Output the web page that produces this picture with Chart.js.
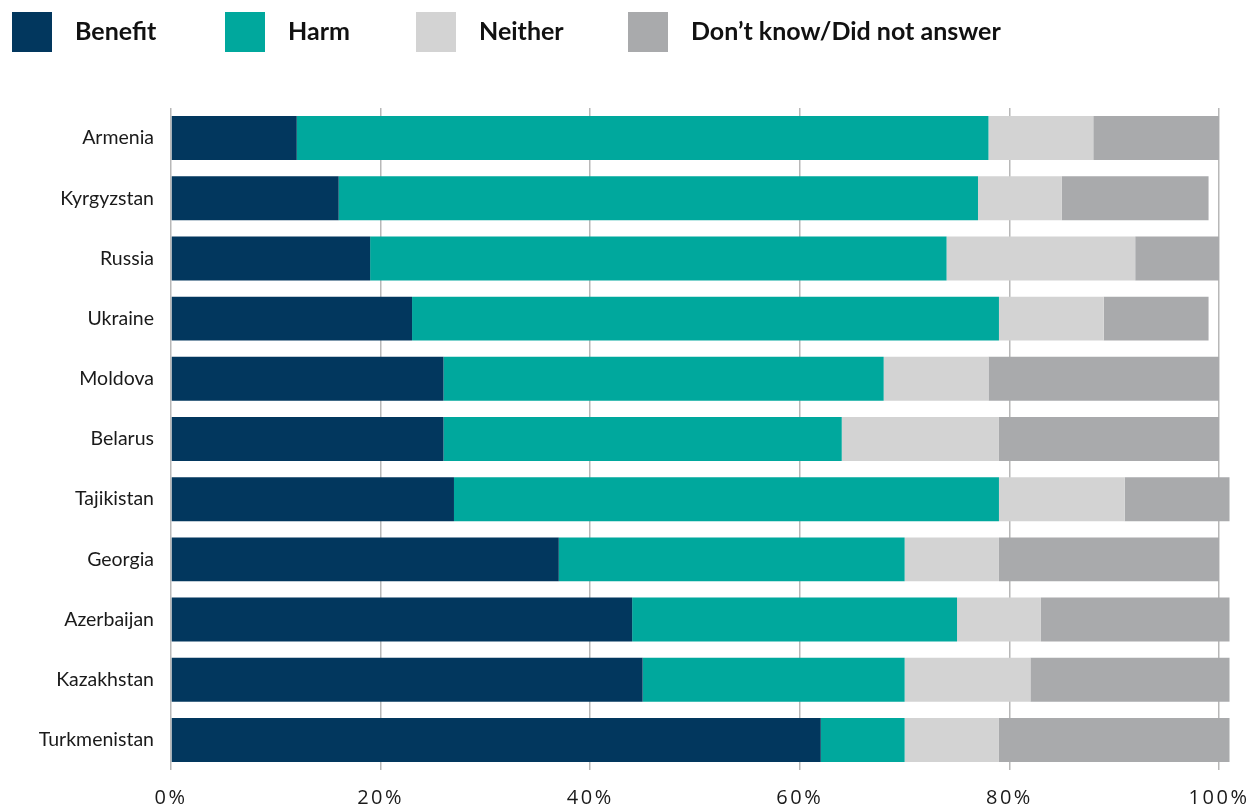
<!DOCTYPE html>
<html>
<head>
<meta charset="utf-8">
<title>Benefit or harm</title>
<script src="https://cdn.jsdelivr.net/npm/chart.js@4/dist/chart.umd.min.js"></script>
<style>
  html, body { margin: 0; padding: 0; background: #fff; }
  #wrap { position: relative; width: 1251px; height: 810px; }
  #legend { position: absolute; left: 0; top: 0; width: 1251px; height: 70px; }
  .item { position: absolute; top: 12px; height: 40px; display: flex; align-items: center;
          font-family: Lato, "Open Sans", sans-serif; font-weight: 700; font-size: 25px; color: #111; }
  .item span.box { display: inline-block; width: 40px; height: 40px; margin-right: 23px; }
  .item span.txt { position: relative; top: -2px; }
</style>
</head>
<body>
<div id="wrap">
  <div id="legend"></div>
  <canvas id="chart" width="1251" height="810"></canvas>
</div>
<script>
(function() {
    'use strict';

    var countries = [ 'Armenia', 'Kyrgyzstan', 'Russia', 'Ukraine', 'Moldova', 'Belarus',
        'Tajikistan', 'Georgia', 'Azerbaijan', 'Kazakhstan', 'Turkmenistan' ];
    var benefit  = [ 12, 16, 19, 23, 26, 26, 27, 37, 44, 45, 62 ];
    var harm     = [ 66, 61, 55, 56, 42, 38, 52, 33, 31, 25, 8 ];
    var neither  = [ 10, 8, 18, 10, 10, 15, 12, 9, 8, 12, 9 ];
    var dontKnow = [ 12, 14, 8, 10, 22, 21, 10, 21, 18, 19, 22 ];
    var tickValues = [ 0, 20, 40, 60, 80, 100 ];

    var series = [
        { label: 'Benefit', data: benefit, color: '#02375e' },
        { label: 'Harm', data: harm, color: '#00a89d' },
        { label: 'Neither', data: neither, color: '#d3d3d3' },
        { label: 'Don\u2019t know/Did not answer', data: dontKnow, color: '#a9aaac' }
    ];

    // legend drawn as html, spaced like the original
    var legendLeft = [ 12, 225, 416, 628 ];
    var legend = document.getElementById( 'legend' );
    series.forEach( function( s, i ) {
        var el = document.createElement( 'div' );
        el.className = 'item';
        el.style.left = legendLeft[ i ] + 'px';
        el.innerHTML = '<span class="box" style="background:' + s.color + '"></span>' +
            '<span class="txt">' + s.label + '</span>';
        legend.appendChild( el );
    } );

    // spaced-out tick labels on the x axis
    var spacedTicks = {
        id: 'spacedTicks',
        afterUpdate: function( chart ) {
            var sx = chart.scales.x;
            if ( sx && !sx._spaced ) {
                var orig = sx.drawLabels.bind( sx );
                sx.drawLabels = function( area ) {
                    var ctx = chart.ctx;
                    ctx.save();
                    ctx.letterSpacing = '2.5px';
                    orig( area );
                    ctx.restore();
                };
                sx._spaced = true;
            }
        }
    };

    var ctx = document.getElementById( 'chart' ).getContext( '2d' );
    new Chart( ctx, {
        type: 'bar',
        data: {
            labels: countries,
            datasets: series.map( function( s ) {
                return {
                    label: s.label,
                    data: s.data,
                    backgroundColor: s.color,
                    borderWidth: 0,
                    barPercentage: 0.73,
                    categoryPercentage: 1
                };
            } )
        },
        options: {
            indexAxis: 'y',
            responsive: false,
            animation: false,
            layout: { padding: { top: 108, right: 11, bottom: 0, left: 0 } },
            plugins: {
                legend: { display: false },
                tooltip: { enabled: false }
            },
            scales: {
                x: {
                    stacked: true,
                    min: 0,
                    max: 102,
                    afterBuildTicks: function( scale ) {
                        scale.ticks = tickValues.map( function( v ) { return { value: v }; } );
                    },
                    afterFit: function( scale ) {
                        scale.height = 40;
                        scale.paddingLeft = 0;
                        scale.paddingRight = 0;
                    },
                    grid: { color: '#b8b8b8', lineWidth: 1.5, drawTicks: false },
                    border: { display: false },
                    ticks: {
                        padding: 16,
                        color: '#1a1a1a',
                        font: { family: '"Open Sans", sans-serif', size: 20 },
                        callback: function( v ) { return v + '%'; }
                    }
                },
                y: {
                    stacked: true,
                    afterFit: function( scale ) { scale.width = 171; },
                    grid: { display: false, drawTicks: false },
                    border: { display: false },
                    ticks: {
                        padding: 17,
                        color: '#1a1a1a',
                        font: { family: 'Lato, sans-serif', size: 19.5 }
                    }
                }
            }
        },
        plugins: [ spacedTicks ]
    } );
})();
</script>
</body>
</html>
